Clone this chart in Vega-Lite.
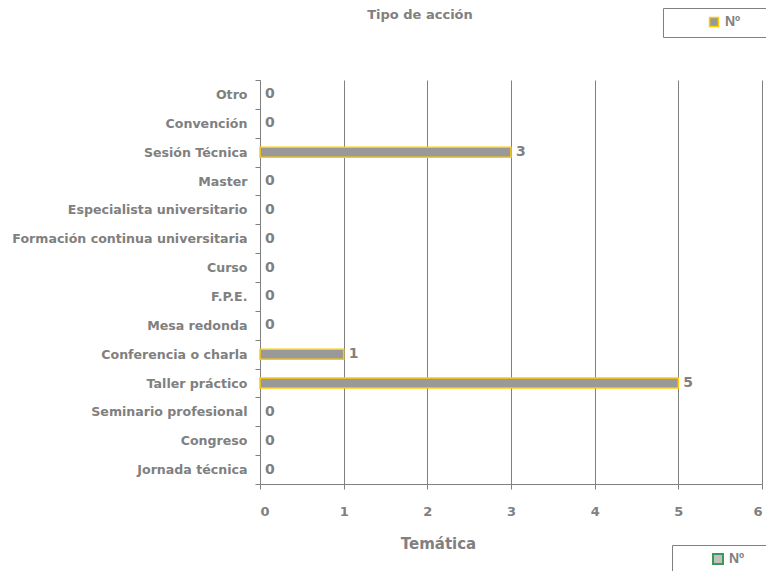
{
  "$schema": "https://vega.github.io/schema/vega-lite/v6.json",
  "width": 502,
  "height": 404,
  "autosize": {"type": "none"},
  "padding": {"left": 260, "top": 80, "right": 4, "bottom": 87},
  "background": "white",
  "config": {
    "font": "DejaVu Sans",
    "view": {"stroke": null}
  },
  "title": {
    "text": "Tipo de acción",
    "font": "DejaVu Sans",
    "fontSize": 13,
    "fontWeight": "bold",
    "color": "#808080",
    "anchor": "middle",
    "dx": -91,
    "offset": -14
  },
  "data": {
    "values": [
      {"tipo": "Otro", "n": 0, "serie": "Nº"},
      {"tipo": "Convención", "n": 0, "serie": "Nº"},
      {"tipo": "Sesión Técnica", "n": 3, "serie": "Nº"},
      {"tipo": "Master", "n": 0, "serie": "Nº"},
      {"tipo": "Especialista universitario", "n": 0, "serie": "Nº"},
      {"tipo": "Formación continua universitaria", "n": 0, "serie": "Nº"},
      {"tipo": "Curso", "n": 0, "serie": "Nº"},
      {"tipo": "F.P.E.", "n": 0, "serie": "Nº"},
      {"tipo": "Mesa redonda", "n": 0, "serie": "Nº"},
      {"tipo": "Conferencia o charla", "n": 1, "serie": "Nº"},
      {"tipo": "Taller práctico", "n": 5, "serie": "Nº"},
      {"tipo": "Seminario profesional ", "n": 0, "serie": "Nº"},
      {"tipo": "Congreso", "n": 0, "serie": "Nº"},
      {"tipo": "Jornada técnica", "n": 0, "serie": "Nº"}
    ]
  },
  "encoding": {
    "y": {
      "field": "tipo",
      "type": "nominal",
      "sort": null,
      "scale": {"paddingInner": 0, "paddingOuter": 0},
      "axis": {
        "title": null,
        "domainColor": "#808080",
        "tickColor": "#808080",
        "tickBand": "extent",
        "tickSize": 5,
        "labelFont": "DejaVu Sans",
        "labelColor": "#808080",
        "labelFontSize": 12.6,
        "labelFontWeight": "bold",
        "labelPadding": 8,
        "labelLimit": 300,
        "grid": false
      }
    },
    "x": {
      "field": "n",
      "type": "quantitative",
      "scale": {"domain": [0, 6], "nice": false},
      "axis": {
        "title": "Temática",
        "titleFont": "DejaVu Sans",
        "titleColor": "#808080",
        "titleFontSize": 15,
        "titleFontWeight": "bold",
        "titleX": 178,
        "titleY": 52,
        "titleAlign": "center",
        "titleBaseline": "top",
        "values": [0, 1, 2, 3, 4, 5, 6],
        "format": "d",
        "domainColor": "#808080",
        "tickColor": "#808080",
        "tickSize": 5,
        "gridColor": "#808080",
        "gridWidth": 1,
        "labelFont": "DejaVu Sans",
        "labelColor": "#808080",
        "labelFontSize": 13,
        "labelFontWeight": "bold",
        "labelPadding": 16
      }
    }
  },
  "layer": [
    {
      "mark": {"type": "bar", "size": 10, "stroke": "#FFCC00", "strokeWidth": 1.5},
      "encoding": {
        "strokeOpacity": {"condition": {"test": "datum.n > 0", "value": 1}, "value": 0},
        "color": {
          "field": "serie",
          "type": "nominal",
          "scale": {"range": ["#999999"]},
          "legend": {
            "title": null,
            "orient": "none",
            "legendX": 403,
            "legendY": -72,
            "direction": "vertical",
            "strokeColor": "#808080",
            "fillColor": "white",
            "padding": 7,
            "symbolType": "square",
            "symbolSize": 80,
            "symbolOffset": 37,
            "symbolStrokeWidth": 1.5,
            "labelFont": "Liberation Sans",
            "labelColor": "#808080",
            "labelFontSize": 14,
            "labelFontWeight": "bold",
            "labelExpr": "datum.label + '\u2800\u2800\u2800'",
            "encode": {"symbols": {"update": {"fill": {"value": "#999999"}, "stroke": {"value": "#FFCC00"}, "strokeOpacity": {"value": 1}}}}
          }
        }
      }
    },
    {
      "mark": {"type": "text", "align": "left", "baseline": "middle", "dx": 5, "fontSize": 14, "fontWeight": "bold", "font": "DejaVu Sans", "color": "#808080"},
      "encoding": {
        "text": {"field": "n", "type": "quantitative"}
      }
    },
    {
      "transform": [{"filter": "datum.n < 0"}],
      "mark": {"type": "bar", "size": 10, "fill": "#C0C0C0", "strokeWidth": 2},
      "encoding": {
        "stroke": {
          "field": "serie",
          "type": "nominal",
          "scale": {"domain": ["Nº"], "range": ["#3A9A5A"]},
          "legend": {
            "title": null,
            "orient": "none",
            "legendX": 412,
            "legendY": 465,
            "direction": "vertical",
            "strokeColor": "#808080",
            "fillColor": "white",
            "padding": 7,
            "symbolType": "square",
            "symbolSize": 100,
            "symbolOffset": 32,
            "symbolFillColor": "#C0C0C0",
            "symbolStrokeWidth": 2,
            "labelFont": "Liberation Sans",
            "labelColor": "#808080",
            "labelFontSize": 14,
            "labelFontWeight": "bold",
            "labelExpr": "datum.label + '\u2800\u2800\u2800'"
          }
        }
      }
    }
  ],
  "resolve": {"scale": {"color": "independent"}, "legend": {"color": "independent"}}
}
